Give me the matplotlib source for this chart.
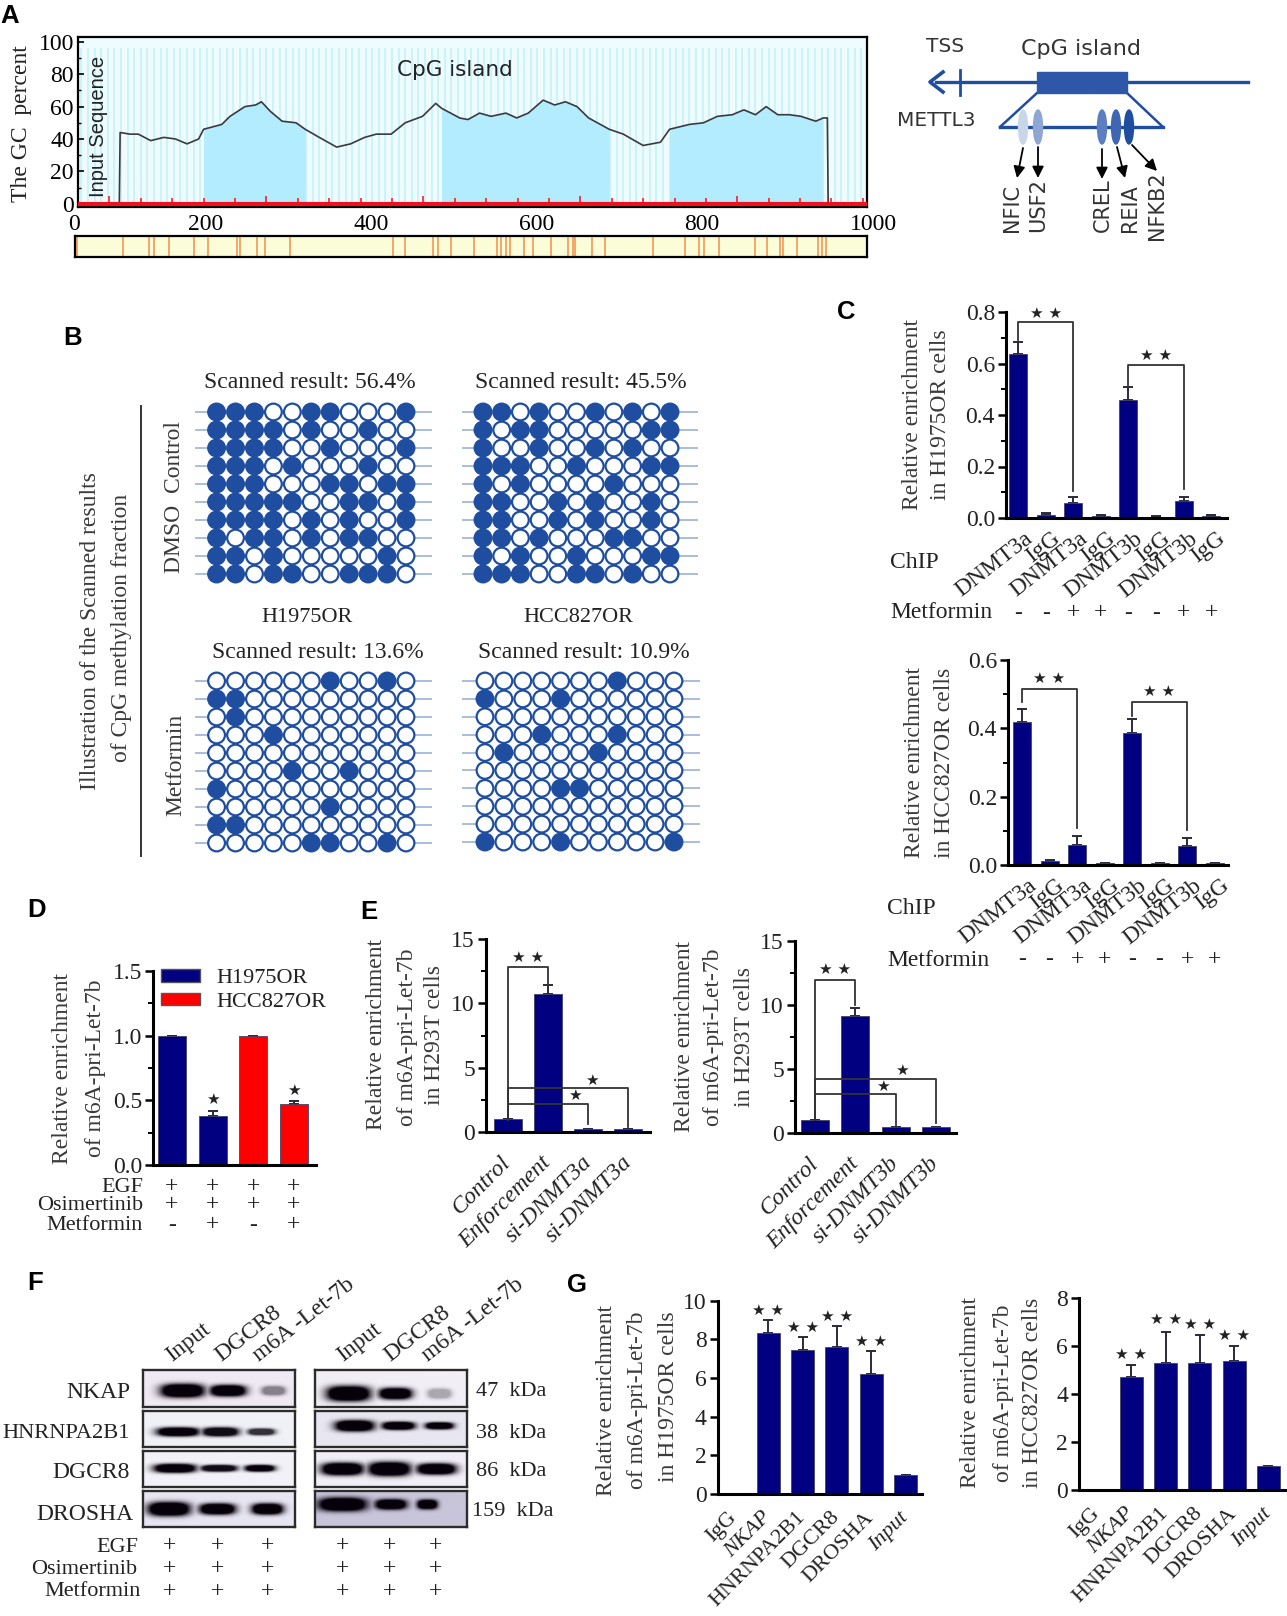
import numpy as np
import matplotlib
matplotlib.use('Agg')
import matplotlib.pyplot as plt
from matplotlib.patches import Patch, Ellipse, Rectangle
from matplotlib.transforms import ScaledTranslation

plt.rcParams['font.family'] = ['Liberation Serif', 'DejaVu Sans']
W, H = 1287, 1616
NAVY = '#000080'
BLUE = '#1f4ea1'
INK = '#222222'

# ---------- Panel A data ----------
gc_x = [95, 96, 108, 118, 133, 149, 163, 177, 191, 197, 219, 229, 247, 260, 267, 278, 292, 309, 320,
        337, 358, 375, 392, 406, 424, 441, 462, 478, 485, 507, 517, 531, 545, 563, 576, 590, 608, 622,
        635, 649, 663, 688, 705, 729, 750, 761, 785, 802, 819, 837, 851, 865, 878, 892, 906, 920, 938,
        947, 952, 953]
gc_y = [0, 44, 43, 43, 39, 41, 40, 37, 40, 46, 49, 54, 60, 61, 63, 57, 51, 50, 46,
        41, 35, 37, 41, 43, 43, 50, 54, 62, 59, 53, 52, 56, 54, 56, 53, 56, 64, 61,
        63, 60, 53, 46, 43, 36, 38, 46, 49, 50, 54, 55, 58, 55, 60, 55, 55, 54, 51,
        53, 53, 0]
island_ranges = [(197, 320), (485, 688), (761, 947)]
axis_a_ticks = [45, 200, 400, 600, 800, 1000]
axis_a_labels = ['0', '200', '400', '600', '800', '1000']
cpg_sites = [47, 103, 134, 140, 158, 189, 205, 240, 244, 264, 274, 304, 428, 443, 477, 483, 498, 526,
             554, 559, 565, 569, 587, 597, 619, 640, 646, 648, 668, 684, 742, 781, 797, 804, 821, 865,
             879, 895, 899, 915, 941, 946, 950]

# ---------- Panel B data ----------
meth_dmso_h = ['11100110001', '11110100100', '11110010001', '11101000100', '11100011011',
               '11111001101', '11110101001', '10110101100', '11010000010', '11011001110']
meth_dmso_c = ['11010010101', '10110000011', '10010010100', '11100100011', '10100001000',
               '11001010010', '11001010010', '11010001100', '10100100011', '11100110100']
meth_met_h = ['00000010010', '11000000000', '01000000000', '00010000000', '00000000000',
              '00001001000', '10000000000', '00000010000', '11000000000', '00000110010']
meth_met_c = ['00000001000', '10001000000', '00000000000', '00010001000', '01000010000',
              '00000000000', '00001100000', '00000000000', '00000000000', '10001000001']

# ---------- Panel C data ----------
chip_labels = ['DNMT3a', 'IgG', 'DNMT3a', 'IgG', 'DNMT3b', 'IgG', 'DNMT3b', 'IgG']
chip_signs = ['-', '-', '+', '+', '-', '-', '+', '+']
c1_vals = [0.635, 0.013, 0.06, 0.008, 0.46, 0.005, 0.065, 0.008]
c1_errs = [0.05, 0.005, 0.02, 0.004, 0.05, 0.003, 0.017, 0.004]
c2_vals = [0.418, 0.012, 0.06, 0.005, 0.385, 0.005, 0.057, 0.005]
c2_errs = [0.04, 0.003, 0.026, 0.002, 0.042, 0.002, 0.022, 0.002]

# ---------- Panel D data ----------
d_vals = [1.0, 0.38, 1.0, 0.47]
d_errs = [0.0, 0.04, 0.0, 0.025]
d_colors = [NAVY, NAVY, 'red', 'red']
d_rows = [('EGF', '++++'), ('Osimertinib', '++++'), ('Metformin', '-+-+')]

# ---------- Panel E data ----------
e1_labels = ['Control', 'Enforcement', 'si-DNMT3a', 'si-DNMT3a']
e1_vals = [1.0, 10.7, 0.2, 0.2]
e1_errs = [0.0, 0.75, 0.05, 0.05]
e2_labels = ['Control', 'Enforcement', 'si-DNMT3b', 'si-DNMT3b']
e2_vals = [1.0, 9.15, 0.45, 0.45]
e2_errs = [0.0, 0.6, 0.05, 0.05]

# ---------- Panel G data ----------
g_labels = ['IgG', 'NKAP', 'HNRNPA2B1', 'DGCR8', 'DROSHA', 'Input']
g1_vals = [0, 8.34, 7.45, 7.6, 6.2, 1.0]
g1_errs = [0, 0.66, 0.65, 1.1, 1.2, 0]
g2_vals = [0, 4.7, 5.28, 5.28, 5.38, 1.0]
g2_errs = [0, 0.5, 1.32, 1.19, 0.6, 0]

# ---------- Panel F data ----------
blot_rows = ['NKAP', 'HNRNPA2B1', 'DGCR8', 'DROSHA']
blot_kda = ['47  kDa', '38  kDa', '86  kDa', '159  kDa']
blot_lanes = ['Input', 'DGCR8', 'm6A -Let-7b']
# per row: y-centre, then (x-centre, width, height, intensity) of each band
blots_left = [
    (0.56, [(0.26, 0.28, 0.36, 1.0), (0.56, 0.23, 0.30, 1.0), (0.86, 0.15, 0.24, 0.45)]),
    (0.58, [(0.23, 0.27, 0.24, 1.0), (0.51, 0.23, 0.24, 0.95), (0.78, 0.17, 0.18, 0.8)]),
    (0.48, [(0.21, 0.27, 0.24, 1.0), (0.50, 0.23, 0.18, 0.95), (0.77, 0.19, 0.18, 1.0)]),
    (0.50, [(0.17, 0.27, 0.38, 1.0), (0.49, 0.23, 0.30, 1.0), (0.82, 0.20, 0.30, 1.0)]),
]
blots_right = [
    (0.64, [(0.22, 0.28, 0.40, 1.0), (0.53, 0.21, 0.30, 1.0), (0.82, 0.15, 0.26, 0.30)]),
    (0.41, [(0.26, 0.25, 0.30, 1.0), (0.55, 0.21, 0.22, 1.0), (0.82, 0.18, 0.19, 1.0)]),
    (0.50, [(0.18, 0.27, 0.34, 1.0), (0.49, 0.27, 0.38, 1.0), (0.80, 0.25, 0.30, 1.0)]),
    (0.37, [(0.18, 0.31, 0.37, 1.0), (0.50, 0.20, 0.28, 1.0), (0.74, 0.13, 0.26, 1.0)]),
]
blots_left_bg = ['#efeaf4', '#f1f1f8', '#f3f2f8', '#e9e6f3']
blots_right_bg = ['#f3eff6', '#e9e8f2', '#f3eff8', '#c9c5da']
f_rows = ['EGF', 'Osimertinib', 'Metformin']

fig = plt.figure(figsize=(W / 100, H / 100), dpi=100, facecolor='white')
over = fig.add_axes([0, 0, 1, 1], zorder=5)
over.set_xlim(0, W)
over.set_ylim(H, 0)
over.axis('off')
over.patch.set_alpha(0)


def px_ax(l, t, r, b, **kw):
    return fig.add_axes([l / W, 1 - b / H, (r - l) / W, (b - t) / H], **kw)


def txt(x, y, s, size=17, ha='center', va='center', rot=0, **kw):
    kw.setdefault('color', INK)
    dy = 2 if rot == 0 and va == 'center' else 0
    return over.text(x, y + dy, s, fontsize=size, ha=ha, va=va, rotation=rot, **kw)


def rot_lines(entries, size=17):
    for x, y, s in entries:
        txt(x, y, s, size=size, rot=90, color='#3a3a3a')


def bar_ax(l, t, r, b, first, step, ymax, majors, minors, vals, errs, colors=NAVY, width_px=20):
    ax = px_ax(l, t, r, b)
    ax.set_xlim((l - first) / step, (r - first) / step)
    ax.set_ylim(0, ymax)
    idx = np.arange(len(vals))
    ax.bar(idx, vals, width=width_px / step, color=colors, edgecolor='#444466', linewidth=0.6, zorder=2)
    ax.errorbar(idx, vals, yerr=[np.zeros(len(vals)), errs], fmt='none', ecolor='#2a2a3a',
                elinewidth=1.4, capsize=3.5, capthick=1.4, zorder=1)
    for s in ('top', 'right'):
        ax.spines[s].set_visible(False)
    for s in ('left', 'bottom'):
        ax.spines[s].set_linewidth(2.2)
    ax.set_yticks(majors)
    ax.set_yticks(minors, minor=True)
    ax.tick_params(axis='y', which='major', length=6, width=1.8, labelsize=17, pad=2, labelcolor='#222222')
    ax.tick_params(axis='y', which='minor', length=3.5, width=1.4)
    ax.set_xticks([])
    ax.patch.set_alpha(0)
    return ax, b, t


def bracket(ax, x0, x1, top, y0, y1, color='#333333'):
    ax.plot([x0, x0, x1, x1], [y0, top, top, y1], color=color, lw=1.3, zorder=3, clip_on=False)


def star(ax, x, y, s='\u2605 \u2605', size=11):
    ax.text(x, y, s, fontsize=size, ha='center', va='center', color='#222222', zorder=4,
            family='DejaVu Sans', clip_on=False)


def frac(b, t, ypx):
    return (b - ypx) / (b - t)


# ---------- Panel labels ----------
for s, x, y in [('A', 10, 14), ('B', 73, 336), ('C', 846, 310), ('D', 37, 908), ('E', 369, 910),
                ('F', 35, 1281), ('G', 577, 1283)]:
    txt(x, y, s, size=18.5, family='Liberation Sans', weight='bold', color='black')

# ---------- Panel A ----------
ax = px_ax(78, 37, 867, 207, facecolor='#eefcff')
ax.set_xlim(45, 1000)
ax.set_ylim(-2, 103)
ax.vlines(np.arange(49, 1000, 8), 0, 96, color='#c6f1fb', lw=1.2, zorder=1)
gx, gy = np.array(gc_x), np.array(gc_y)
for a, b_ in island_ranges:
    m = (gx >= a) & (gx <= b_)
    ax.fill_between(gx[m], 0, gy[m], color='#b3ecff', lw=0, zorder=2)
ax.plot(gx, gy, color='#3a3a3a', lw=1.2, zorder=3)
ticks_red = np.arange(83, 1000, 38)
ax.vlines(ticks_red, 0, [5 if i % 5 == 0 else 3.5 for i in range(len(ticks_red))], color='#e8242c', lw=1.2, zorder=4)
ax.axhline(0, color='#f01020', lw=3, zorder=4)
ax.set_xticks(axis_a_ticks)
ax.set_xticklabels(axis_a_labels)
ax.set_yticks(range(0, 101, 20))
ax.set_yticks(range(10, 100, 20), minor=True)
ax.tick_params(axis='x', length=0, labelsize=17, pad=5)
ax.tick_params(axis='y', which='major', length=4, width=1.2, labelsize=17, pad=3, direction='in')
ax.tick_params(axis='y', which='minor', length=2, width=1, direction='in')
for s in ax.spines.values():
    s.set_linewidth(1.6)
xl = ax.get_xticklabels()
xl[0].set_transform(xl[0].get_transform() + ScaledTranslation(-4 / 100, 0, fig.dpi_scale_trans))
xl[-1].set_transform(xl[-1].get_transform() + ScaledTranslation(6 / 100, 0, fig.dpi_scale_trans))
txt(22, 124, 'The GC  percent', size=17, rot=90)
txt(99, 126, 'Input Sequence', size=14.5, rot=90, family='Liberation Sans')
txt(455, 68, 'CpG island', size=15.5, family='DejaVu Sans')

ax = px_ax(75, 236, 867, 257, facecolor='#fbfcd8')
ax.set_xlim(45, 1000)
ax.set_ylim(0, 1)
ax.vlines(cpg_sites, 0, 1, color='#f5a060', lw=1.3)
ax.set_xticks([])
ax.set_yticks([])
for s in ax.spines.values():
    s.set_linewidth(1.6)

# schematic
over.plot([936, 1248], [82, 82], color=BLUE, lw=2.4)
over.plot([943, 930, 943], [72, 82, 92], color=BLUE, lw=2.6)
over.plot([960, 960], [70, 95], color=BLUE, lw=2)
over.add_patch(Rectangle((1037, 72), 90, 21, color='#2f57a8', zorder=3))
over.plot([1000, 1037], [127, 93], color=BLUE, lw=1.8)
over.plot([1163, 1127], [127, 93], color=BLUE, lw=1.8)
over.plot([1000, 1163], [127, 127], color=BLUE, lw=2.4)
for x, c in zip([1023, 1038, 1102, 1116, 1129], ['#c9d6ea', '#8ea6d3', '#5b7fc0', '#3f66b2', '#1f4ea1']):
    over.add_patch(Ellipse((x, 127), 9, 34, color=c, zorder=3))
for (x0, y0, x1, y1) in [(1023, 148, 1017, 178), (1038, 147, 1038, 178), (1102, 149, 1102, 179),
                         (1117, 147, 1125, 178), (1132, 145, 1157, 171)]:
    over.annotate('', xy=(x1, y1), xytext=(x0, y0),
                  arrowprops=dict(arrowstyle='-|>', color='black', lw=1.3, mutation_scale=17, shrinkA=0, shrinkB=0))
txt(945, 45, 'TSS', size=14.5, family='DejaVu Sans', color='#333333')
txt(1081, 47, 'CpG island', size=16, family='DejaVu Sans', color='#333333')
txt(936, 118, 'METTL3', size=14.5, family='DejaVu Sans', color='#333333')
for x, y, s in [(1012, 232, 'NFIC'), (1038, 232, 'USF2'), (1103, 232, 'CREL'), (1130, 232, 'REIA'), (1157, 240, 'NFKB2')]:
    txt(x, y, s, size=15, rot=90, va='bottom', family='DejaVu Sans', color='#333333')

# ---------- Panel B ----------
for mat, (l, r), (t, b), (ll, lr) in [
    (meth_dmso_h, (216.6, 406), (412, 574), (195, 432)),
    (meth_dmso_c, (483, 670), (412, 574), (462, 698)),
    (meth_met_h, (216.6, 406), (681, 843), (195, 432)),
    (meth_met_c, (485, 674), (681, 842), (462, 700)),
]:
    dx = (r - l) / 10
    dy = (b - t) / 9
    ax = px_ax(ll, t - dy, lr, b + dy)
    ax.set_xlim((ll - l) / dx, (lr - l) / dx)
    ax.set_ylim(10, -1)
    ax.axis('off')
    for i, row in enumerate(mat):
        ax.plot(ax.get_xlim(), [i, i], color='#a9bde0', lw=1.4, zorder=1)
        vals = np.array([int(c) for c in row])
        cols = np.arange(11)
        ax.scatter(cols, [i] * 11, s=145, c=[BLUE if v else 'white' for v in vals], edgecolors=BLUE,
                   linewidths=1.6, zorder=2, clip_on=False)
for x, y, s in [(310, 381, 'Scanned result: 56.4%'), (581, 381, 'Scanned result: 45.5%'),
                (307, 615, 'H1975OR'), (578, 615, 'HCC827OR'),
                (318, 651, 'Scanned result: 13.6%'), (584, 651, 'Scanned result: 10.9%')]:
    txt(x, y, s, size=17 if 'Scanned' in s else 16)
over.plot([141, 141], [406, 856], color='#333333', lw=1.4)
rot_lines([(91, 631, 'Illustration of the Scanned results'), (121, 628, 'of CpG methylation fraction'),
           (174, 497, 'DMSO  Control'), (176, 765, 'Metformin')], size=17)

# ---------- Panel C ----------
def chip_panel(l, t, r, b, first, step, ymax, majors, minors, vals, errs, br, chip_y, met_y, lab_left):
    ax, bb, tt = bar_ax(l, t, r, b, first, step, ymax, majors, minors, vals, errs, width_px=18)
    for (x0, x1, top, y0, y1, sx, sy) in br:
        bracket(ax, x0, x1, top, y0, y1)
        star(ax, sx, sy)
    tr = ax.get_xaxis_transform()
    for i, lab in enumerate(chip_labels):
        ax.text(i + 0.2, frac(bb, tt, b + 10), lab, transform=tr, rotation=38, ha='right', va='top',
                rotation_mode='anchor', fontsize=17, color=INK, clip_on=False)
        ax.text(i, frac(bb, tt, met_y + 2), chip_signs[i], transform=tr, ha='center', va='center', fontsize=17,
                color=INK, clip_on=False)
    txt(lab_left, chip_y, 'ChIP', ha='left', size=17)
    txt(lab_left, met_y, 'Metformin', ha='left', size=17)
    return ax


chip_panel(1006, 312, 1227, 518, 1018, 27.6, 0.8, [0, .2, .4, .6, .8], [.1, .3, .5, .7], c1_vals, c1_errs,
           [(0, 2, .762, .69, .104, 1.0, .795), (4, 6, .595, .515, .113, 5.0, .63)], 560, 611, 890)
chip_panel(1008, 660, 1228, 865, 1022, 27.5, 0.6, [0, .2, .4, .6], [.1, .3, .5], c2_vals, c2_errs,
           [(0, 2, .515, .476, .109, 1.0, .545), (4, 6, .478, .436, .102, 5.0, .508)], 907, 958, 887)
rot_lines([(912, 415, 'Relative enrichment'), (941, 415, 'in H1975OR cells'),
           (914, 763, 'Relative enrichment'), (944, 763, 'in HCC827OR cells')], size=17)

# ---------- Panel D ----------
ax, bb, tt = bar_ax(153, 971, 316, 1165, 172, 40.6, 1.5, [0, .5, 1, 1.5], [.25, .75, 1.25], d_vals, d_errs,
                    colors=d_colors, width_px=28)
star(ax, 1, .505, '\u2605')
star(ax, 3, .578, '\u2605')
ax.legend(handles=[Patch(facecolor=NAVY, edgecolor='#555555', label='H1975OR'),
                   Patch(facecolor='red', edgecolor='#555555', label='HCC827OR')],
          loc='upper left', bbox_to_anchor=(0.05, 1.01), frameon=False, fontsize=16, handlelength=1.75,
          handleheight=0.5, labelspacing=0.2, handletextpad=0.75, borderpad=0, borderaxespad=0,
          labelcolor=INK)
tr = ax.get_xaxis_transform()
for (name, signs), y in zip(d_rows, [1185, 1203, 1223]):
    txt(143, y, name, ha='right', size=16)
    for i, sg in enumerate(signs):
        ax.text(i, frac(bb, tt, y + 2), sg, transform=tr, ha='center', va='center', fontsize=17, color=INK, clip_on=False)
rot_lines([(63, 1068, 'Relative enrichment'), (96, 1068, 'of m6A-pri-Let-7b')], size=17)


# ---------- Panel E ----------
def e_panel(l, t, r, b, first, step, labels, vals, errs, br, stars):
    ax, bb, tt = bar_ax(l, t, r, b, first, step, 15, [0, 5, 10, 15], [2.5, 7.5, 12.5], vals, errs, width_px=28)
    for x0, x1, top, y0, y1 in br:
        bracket(ax, x0, x1, top, y0, y1)
    for x, y, s in stars:
        star(ax, x, y, s)
    tr = ax.get_xaxis_transform()
    for i, lab in enumerate(labels):
        ax.text(i - 0.18, frac(bb, tt, b + 20), lab, transform=tr, rotation=45, ha='right', va='top',
                rotation_mode='anchor', fontsize=17, style='italic', color=INK, clip_on=False)


S2, S1 = '\u2605 \u2605', '\u2605'
e_panel(486, 939, 650, 1132, 507.5, 40.3, e1_labels, e1_vals, e1_errs,
        [(0, 1, 12.86, .9, 11.4), (0, 2, 2.2, .9, .65), (0, 3, 3.45, .9, .4)],
        [(.5, 13.6, S2), (1.68, 2.86, S1), (2.1, 4.03, S1)])
e_panel(795, 941, 956, 1133, 815, 40.3, e2_labels, e2_vals, e2_errs,
        [(0, 1, 11.95, 1, 10), (0, 2, 3.06, 1, .65), (0, 3, 4.2, 1, .78)],
        [(.5, 12.8, S2), (1.68, 3.6, S1), (2.16, 4.9, S1)])
rot_lines([(376, 1035, 'Relative enrichment'), (407, 1037, 'of m6A-pri-Let-7b'), (435, 1035, 'in H293T cells'),
           (685, 1037, 'Relative enrichment'), (713, 1037, 'of m6A-pri-Let-7b'), (744, 1037, 'in H293T cells')], size=17)


# ---------- Panel F ----------
def blot(l, t, r, b, spec, bg):
    h, w = 70, 300
    yy, xx = np.mgrid[0:1:h * 1j, 0:1:w * 1j]
    dark = np.zeros((h, w))
    yc, bands = spec
    for cx, bw, bh, inten in bands:
        d = np.exp(-np.abs((xx - cx) / (bw / 2)) ** 3.2 - np.abs((yy - yc) / (bh / 2)) ** 2.6)
        dark = np.maximum(dark, inten * np.clip(1.9 * d, 0, 1))
    base = np.array(matplotlib.colors.to_rgb(bg))
    ink = np.array([0.02, 0.0, 0.04])
    img = base[None, None, :] * (1 - dark[..., None]) + ink[None, None, :] * dark[..., None]
    ax = px_ax(l, t, r, b)
    ax.imshow(img, extent=(0, 1, 1, 0), aspect='auto', interpolation='bilinear')
    ax.set_xticks([])
    ax.set_yticks([])
    for s in ax.spines.values():
        s.set_linewidth(1.7)
        s.set_color('#2c2c2c')


row_tb = [(1370, 1407), (1411, 1447), (1451, 1487), (1491, 1527)]
for i, (t, b) in enumerate(row_tb):
    blot(142.5, t, 294.5, b, blots_left[i], blots_left_bg[i])
    blot(314.5, t, 466.5, b, blots_right[i], blots_right_bg[i])
for s, x, y in zip(blot_rows, [130, 130, 130, 133], [1391, 1431, 1471, 1512]):
    txt(x, y, s, ha='right', size=16.2 if len(s) > 8 else 17)
for s, x, y in zip(blot_kda, [476, 476, 476, 472], [1389, 1432, 1470, 1510]):
    txt(x, y, s, ha='left', size=16)
for xs in ([175, 224, 262], [346, 393, 431]):
    for s, x in zip(blot_lanes, xs):
        txt(x, 1366, s, size=17, ha='left', va='bottom', rot=38, rotation_mode='anchor')
for s, x, y in zip(f_rows, [138, 137, 141], [1546, 1567, 1589]):
    txt(x, y, s, ha='right', size=16)
for y in [1544, 1567, 1590]:
    for x in [169, 218, 268, 342.5, 390, 436]:
        txt(x, y, '+', size=17)


# ---------- Panel G ----------
def g_panel(l, t, r, b, first, step, ymax, majors, vals, errs, star_y):
    ax, bb, tt = bar_ax(l, t, r, b, first, step, ymax, majors, [], vals, errs, width_px=23)
    for i, y in enumerate(star_y):
        star(ax, i + 1, y)
    tr = ax.get_xaxis_transform()
    for i, lab in enumerate(g_labels):
        ax.text(i - 0.2, frac(bb, tt, b + 14), lab, transform=tr, rotation=45, ha='right', va='top',
                rotation_mode='anchor', fontsize=16, style='italic' if lab in ('NKAP', 'Input') else 'normal',
                color=INK, clip_on=False)


g_panel(717.6, 1300.7, 921.6, 1494, 734, 34.3, 10, [0, 2, 4, 6, 8, 10], g1_vals, g1_errs, [9.5, 8.6, 9.17, 7.9])
g_panel(1079, 1298, 1285.6, 1490, 1097, 34.3, 8, [0, 2, 4, 6, 8], g2_vals, g2_errs, [5.63, 7.09, 6.88, 6.44])
rot_lines([(606, 1400, 'Relative enrichment'), (637, 1400, 'of m6A-pri-Let-7b'), (668, 1397, 'in H1975OR cells'),
           (970, 1393, 'Relative enrichment'), (1003, 1393, 'of m6A-pri-Let-7b'), (1033, 1393, 'in HCC827OR cells')], size=17)

fig.savefig('out.png', dpi=100)
